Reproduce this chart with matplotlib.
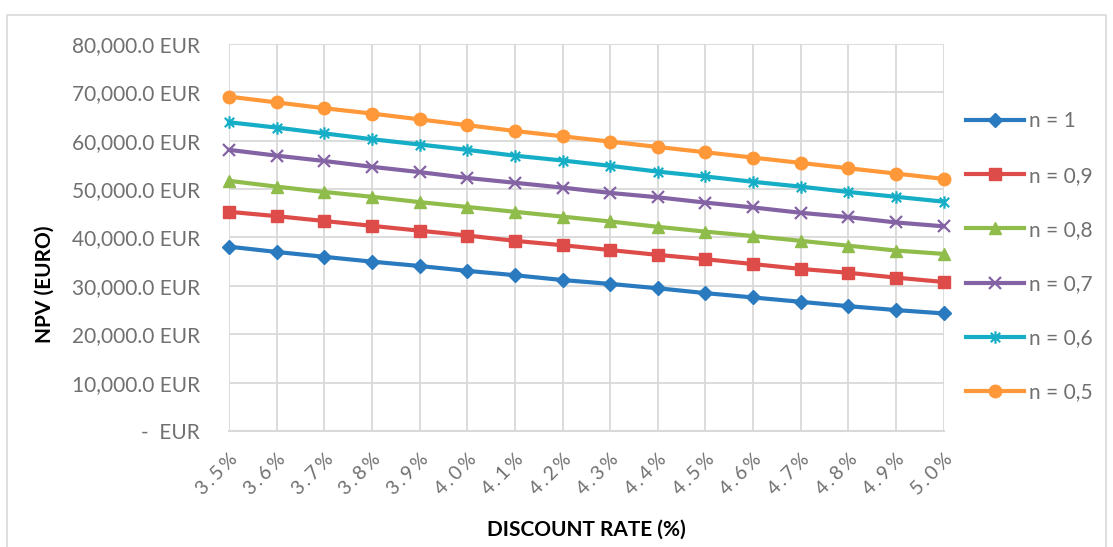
import matplotlib.pyplot as plt
from matplotlib.path import Path
from matplotlib.patches import Rectangle

rates = [3.5, 3.6, 3.7, 3.8, 3.9, 4.0, 4.1, 4.2, 4.3, 4.4, 4.5, 4.6, 4.7, 4.8, 4.9, 5.0]
npv_n1 = [38100, 37000, 36000, 35000, 34100, 33100, 32200, 31200, 30400, 29500, 28500, 27600, 26700, 25800, 25000, 24300]
npv_n09 = [45300, 44400, 43400, 42400, 41400, 40400, 39300, 38400, 37400, 36400, 35500, 34500, 33500, 32700, 31700, 30800]
npv_n08 = [51700, 50500, 49400, 48400, 47300, 46300, 45300, 44300, 43300, 42200, 41200, 40300, 39300, 38300, 37300, 36600]
npv_n07 = [58100, 56900, 55800, 54600, 53500, 52300, 51300, 50300, 49200, 48300, 47200, 46200, 45100, 44200, 43100, 42300]
npv_n06 = [63800, 62700, 61500, 60300, 59200, 58100, 56900, 55900, 54800, 53600, 52600, 51500, 50500, 49400, 48400, 47400]
npv_n05 = [69100, 67900, 66700, 65600, 64400, 63200, 62000, 60900, 59800, 58700, 57600, 56500, 55400, 54300, 53200, 52100]
labels = ['n = 1', 'n = 0,9', 'n = 0,8', 'n = 0,7', 'n = 0,6', 'n = 0,5']
yticks = [0, 10000, 20000, 30000, 40000, 50000, 60000, 70000, 80000]

plt.rcParams['font.family'] = ['Lato', 'DejaVu Sans']
grey_txt = '#707070'

# star marker like excel: vertical line plus an x
star = Path([(0, -1), (0, 1), (-0.75, -0.75), (0.75, 0.75), (-0.75, 0.75), (0.75, -0.75)],
            [Path.MOVETO, Path.LINETO, Path.MOVETO, Path.LINETO, Path.MOVETO, Path.LINETO])

series = [npv_n1, npv_n09, npv_n08, npv_n07, npv_n06, npv_n05]
colors = ['#2A7ABF', '#DE4C4A', '#8FBC4B', '#8463A5', '#16AEC6', '#FF9838']
markers = ['D', 's', '^', 'x', star, 'o']
msizes = [7, 9, 9, 9, 9, 9]

fig = plt.figure(figsize=(11.13, 5.47), dpi=100)
fig.patches.append(Rectangle((0.0065, -0.05), 0.987, 1.023, transform=fig.transFigure,
                             fill=False, edgecolor='#d9d9d9', linewidth=1.2))
ax = fig.add_axes([0.2058, 0.212, 0.642, 0.7078])

for vals, c, m, ms, lab in zip(series, colors, markers, msizes, labels):
    ax.plot(rates, vals, color=c, marker=m, markersize=ms, linewidth=3,
            markeredgewidth=1.6 if (m == 'x' or m is star) else 1,
            markeredgecolor=c, markerfacecolor=c, label=lab, clip_on=False, zorder=3)

ax.set_xlim(3.5, 5.0)
ax.set_ylim(0, 80000)
ax.set_xticks(rates)
ax.set_xticklabels(['\u2009'.join('%.1f%%' % r) for r in rates], rotation=45, ha='right',
                   rotation_mode='anchor', fontsize=14, color=grey_txt)
ax.set_yticks(yticks)
ax.set_yticklabels(['-  EUR'] + ['{:,.1f} EUR'.format(v) for v in yticks[1:]],
                   fontsize=15, color=grey_txt)
ax.tick_params(axis='both', length=0)
ax.tick_params(axis='y', pad=21)
ax.tick_params(axis='x', pad=14)
ax.grid(True, color='#d9d9d9', linewidth=1.3)
ax.set_axisbelow(True)
for s in ['top', 'right', 'left']:
    ax.spines[s].set_visible(False)
ax.spines['bottom'].set_color('#d9d9d9')
ax.spines['bottom'].set_linewidth(1.5)

fig.text(45 / 1113, 1 - 284 / 547, 'NPV (EURO)', rotation=90, ha='center', va='center',
         fontsize=15, fontweight='bold', color='black')
fig.text(586 / 1113, 1 - 530 / 547, 'DISCOUNT RATE (%)', ha='center', va='center',
         fontsize=15, fontweight='bold', color='black')

leg = ax.legend(loc='upper left', bbox_to_anchor=(1.02, 0.847), frameon=False, fontsize=15,
                labelcolor=grey_txt, handlelength=2.75, handletextpad=0.25, labelspacing=1.64,
                borderaxespad=0)

fig.savefig('out.png', dpi=100)
